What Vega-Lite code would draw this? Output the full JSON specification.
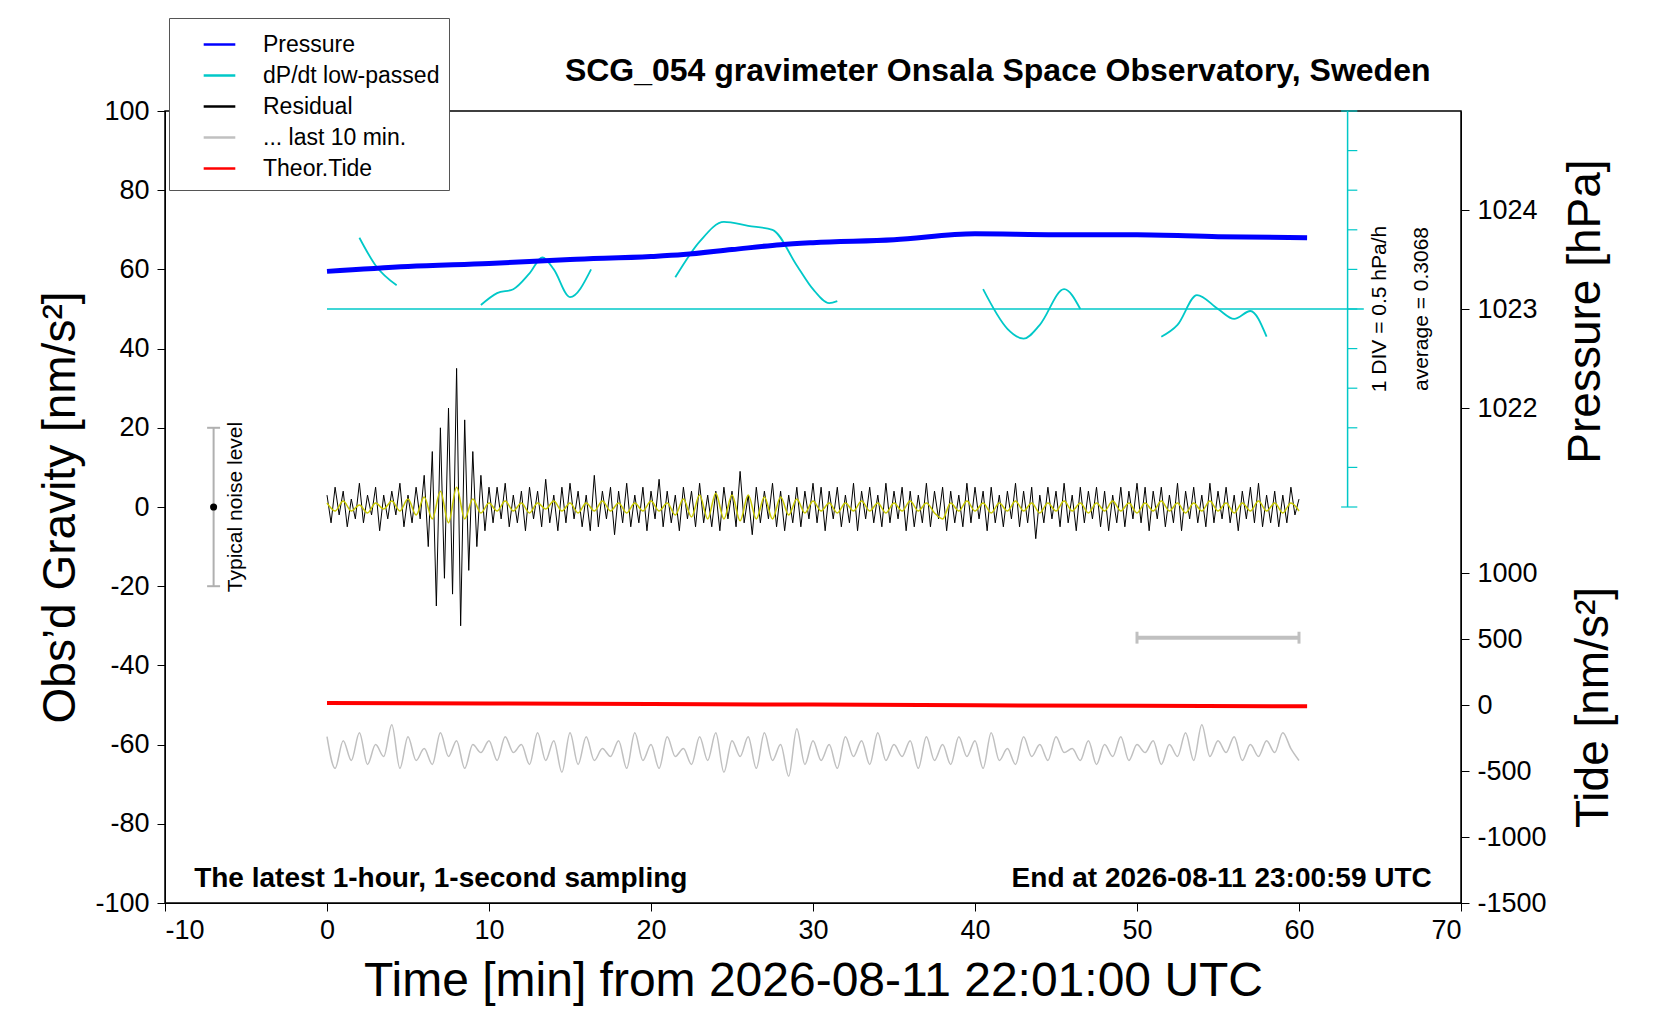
{
"$schema":"https://vega.github.io/schema/vega-lite/v6.json",
"width":1296,"height":792,"autosize":"none",
"padding":{"left":165,"top":111,"right":199,"bottom":117},
"background":"white",
"config":{"font":"Liberation Sans","view":{"stroke":"black","strokeWidth":1.5},
"axis":{"labelFont":"Liberation Sans","titleFont":"Liberation Sans","labelColor":"black","titleColor":"black","tickColor":"black","domainColor":"black","labelFontSize":27,"titleFontWeight":"normal","grid":false,"tickSize":8,"labelExpr":"'' + datum.value"}},
"datasets":{
"pres":[{"t":0,"p":1023.38},{"t":5,"p":1023.43},{"t":10,"p":1023.46},{"t":15,"p":1023.5},{"t":20,"p":1023.53},{"t":22,"p":1023.55},{"t":25,"p":1023.6},{"t":28,"p":1023.65},{"t":30,"p":1023.67},{"t":35,"p":1023.7},{"t":40,"p":1023.76},{"t":45,"p":1023.75},{"t":50,"p":1023.75},{"t":55,"p":1023.73},{"t":60.5,"p":1023.72}],
"tide":[{"t":0,"v":15},{"t":10,"v":12},{"t":20,"v":8},{"t":30,"v":3},{"t":40,"v":-2},{"t":50,"v":-6},{"t":60.5,"v":-10}],
"dpdt":[{"s":1,"t":2,"v":68},{"s":1,"t":3,"v":61},{"s":1,"t":4.3,"v":56},
{"s":2,"t":9.5,"v":51},{"s":2,"t":10.5,"v":54},{"s":2,"t":11.5,"v":55},{"s":2,"t":12.5,"v":59},{"s":2,"t":13.3,"v":63},{"s":2,"t":14,"v":60},{"s":2,"t":15,"v":53},{"s":2,"t":16.3,"v":60},
{"s":3,"t":21.5,"v":58},{"s":3,"t":23,"v":67},{"s":3,"t":24.5,"v":72},{"s":3,"t":26,"v":71},{"s":3,"t":27.5,"v":70},{"s":3,"t":29,"v":61},{"s":3,"t":30,"v":55},{"s":3,"t":31,"v":51.5},{"s":3,"t":31.5,"v":52},
{"s":4,"t":40.5,"v":55},{"s":4,"t":42,"v":45},{"s":4,"t":43,"v":42.5},{"s":4,"t":44,"v":46},{"s":4,"t":45.5,"v":55},{"s":4,"t":46.5,"v":50},
{"s":5,"t":51.5,"v":43},{"s":5,"t":52.5,"v":46},{"s":5,"t":53.7,"v":53.5},{"s":5,"t":55,"v":50},{"s":5,"t":56,"v":47.5},{"s":5,"t":57,"v":49.5},{"s":5,"t":58,"v":43}],
"ticks":[{"y":0,"a":62.6},{"y":10,"a":63},{"y":20,"a":63},{"y":30,"a":63},{"y":40,"a":63},{"y":50,"a":63},{"y":60,"a":63},{"y":70,"a":63},{"y":80,"a":63},{"y":90,"a":63},{"y":100,"a":62.6}],
"res":[{"t":0,"v":3},{"t":0.25,"v":-4},{"t":0.5,"v":5},{"t":0.75,"v":-2},{"t":1,"v":4},{"t":1.25,"v":-5},{"t":1.5,"v":2},{"t":1.75,"v":-3},{"t":2,"v":6},{"t":2.25,"v":-4},{"t":2.5,"v":3},{"t":2.75,"v":-2},{"t":3,"v":5},{"t":3.25,"v":-6},{"t":3.5,"v":3},{"t":3.75,"v":-3},{"t":4,"v":4},{"t":4.25,"v":-2},{"t":4.5,"v":6},{"t":4.75,"v":-5},{"t":5,"v":3},{"t":5.25,"v":-4},{"t":5.5,"v":5},{"t":5.75,"v":-3},
{"t":6,"v":8},{"t":6.25,"v":-10},{"t":6.5,"v":14},{"t":6.75,"v":-25},{"t":7,"v":20},{"t":7.25,"v":-18},{"t":7.5,"v":25},{"t":7.75,"v":-22},{"t":8,"v":35},{"t":8.25,"v":-30},{"t":8.5,"v":22},{"t":8.75,"v":-16},{"t":9,"v":14},{"t":9.25,"v":-10},{"t":9.5,"v":8},{"t":9.75,"v":-6},{"t":10,"v":5},
{"t":10.25,"v":-4},{"t":10.5,"v":5},{"t":10.75,"v":-3},{"t":11,"v":6},{"t":11.25,"v":-5},{"t":11.5,"v":3},{"t":11.75,"v":-4},{"t":12,"v":4},{"t":12.25,"v":-6},{"t":12.5,"v":5},{"t":12.75,"v":-3},{"t":13,"v":4},{"t":13.25,"v":-5},{"t":13.5,"v":7},{"t":13.75,"v":-4},{"t":14,"v":3},{"t":14.25,"v":-6},{"t":14.5,"v":5},{"t":14.75,"v":-4},{"t":15,"v":6},
{"t":15.25,"v":-3},{"t":15.5,"v":4},{"t":15.75,"v":-5},{"t":16,"v":3},{"t":16.25,"v":-6},{"t":16.5,"v":8},{"t":16.75,"v":-5},{"t":17,"v":4},{"t":17.25,"v":-3},{"t":17.5,"v":5},{"t":17.75,"v":-7},{"t":18,"v":4},{"t":18.25,"v":-4},{"t":18.5,"v":6},{"t":18.75,"v":-5},{"t":19,"v":3},{"t":19.25,"v":-4},{"t":19.5,"v":5},{"t":19.75,"v":-6},{"t":20,"v":4},
{"t":20.25,"v":-3},{"t":20.5,"v":7},{"t":20.75,"v":-5},{"t":21,"v":4},{"t":21.25,"v":-4},{"t":21.5,"v":3},{"t":21.75,"v":-6},{"t":22,"v":5},{"t":22.25,"v":-3},{"t":22.5,"v":4},{"t":22.75,"v":-5},{"t":23,"v":6},{"t":23.25,"v":-4},{"t":23.5,"v":3},{"t":23.75,"v":-5},{"t":24,"v":4},{"t":24.25,"v":-6},{"t":24.5,"v":5},{"t":24.75,"v":-3},{"t":25,"v":4},
{"t":25.25,"v":-5},{"t":25.5,"v":9},{"t":25.75,"v":-4},{"t":26,"v":3},{"t":26.25,"v":-7},{"t":26.5,"v":5},{"t":26.75,"v":-4},{"t":27,"v":4},{"t":27.25,"v":-3},{"t":27.5,"v":6},{"t":27.75,"v":-5},{"t":28,"v":4},{"t":28.25,"v":-6},{"t":28.5,"v":3},{"t":28.75,"v":-4},{"t":29,"v":5},{"t":29.25,"v":-5},{"t":29.5,"v":4},{"t":29.75,"v":-3},{"t":30,"v":6},
{"t":30.25,"v":-4},{"t":30.5,"v":5},{"t":30.75,"v":-6},{"t":31,"v":4},{"t":31.25,"v":-3},{"t":31.5,"v":5},{"t":31.75,"v":-5},{"t":32,"v":3},{"t":32.25,"v":-4},{"t":32.5,"v":6},{"t":32.75,"v":-6},{"t":33,"v":4},{"t":33.25,"v":-3},{"t":33.5,"v":5},{"t":33.75,"v":-4},{"t":34,"v":3},{"t":34.25,"v":-5},{"t":34.5,"v":6},{"t":34.75,"v":-4},{"t":35,"v":4},
{"t":35.25,"v":-3},{"t":35.5,"v":5},{"t":35.75,"v":-6},{"t":36,"v":4},{"t":36.25,"v":-5},{"t":36.5,"v":3},{"t":36.75,"v":-4},{"t":37,"v":6},{"t":37.25,"v":-5},{"t":37.5,"v":4},{"t":37.75,"v":-3},{"t":38,"v":5},{"t":38.25,"v":-6},{"t":38.5,"v":4},{"t":38.75,"v":-4},{"t":39,"v":3},{"t":39.25,"v":-5},{"t":39.5,"v":6},{"t":39.75,"v":-4},{"t":40,"v":5},
{"t":40.25,"v":-3},{"t":40.5,"v":4},{"t":40.75,"v":-6},{"t":41,"v":5},{"t":41.25,"v":-4},{"t":41.5,"v":3},{"t":41.75,"v":-5},{"t":42,"v":4},{"t":42.25,"v":-3},{"t":42.5,"v":6},{"t":42.75,"v":-5},{"t":43,"v":4},{"t":43.25,"v":-4},{"t":43.5,"v":5},{"t":43.75,"v":-8},{"t":44,"v":3},{"t":44.25,"v":-4},{"t":44.5,"v":5},{"t":44.75,"v":-3},{"t":45,"v":4},
{"t":45.25,"v":-5},{"t":45.5,"v":6},{"t":45.75,"v":-4},{"t":46,"v":3},{"t":46.25,"v":-6},{"t":46.5,"v":5},{"t":46.75,"v":-4},{"t":47,"v":4},{"t":47.25,"v":-3},{"t":47.5,"v":5},{"t":47.75,"v":-5},{"t":48,"v":4},{"t":48.25,"v":-6},{"t":48.5,"v":3},{"t":48.75,"v":-4},{"t":49,"v":5},{"t":49.25,"v":-5},{"t":49.5,"v":4},{"t":49.75,"v":-3},{"t":50,"v":6},
{"t":50.25,"v":-4},{"t":50.5,"v":5},{"t":50.75,"v":-6},{"t":51,"v":4},{"t":51.25,"v":-3},{"t":51.5,"v":5},{"t":51.75,"v":-5},{"t":52,"v":3},{"t":52.25,"v":-4},{"t":52.5,"v":6},{"t":52.75,"v":-6},{"t":53,"v":4},{"t":53.25,"v":-3},{"t":53.5,"v":5},{"t":53.75,"v":-4},{"t":54,"v":3},{"t":54.25,"v":-5},{"t":54.5,"v":6},{"t":54.75,"v":-4},{"t":55,"v":4},{"t":55.25,"v":-3},
{"t":55.5,"v":5},{"t":55.75,"v":-4},{"t":56,"v":3},{"t":56.25,"v":-6},{"t":56.5,"v":4},{"t":56.75,"v":-3},{"t":57,"v":5},{"t":57.25,"v":-4},{"t":57.5,"v":6},{"t":57.75,"v":-5},{"t":58,"v":3},{"t":58.25,"v":-4},{"t":58.5,"v":4},{"t":58.75,"v":-5},{"t":59,"v":3},{"t":59.25,"v":-4},{"t":59.5,"v":5},{"t":59.75,"v":-2},{"t":60,"v":2}],
"yel":[{"t":0,"v":1},{"t":0.5,"v":-1},{"t":1,"v":1.5},{"t":1.5,"v":-1},{"t":2,"v":0.5},{"t":2.5,"v":-1.5},{"t":3,"v":1},{"t":3.5,"v":-0.5},{"t":4,"v":1.5},{"t":4.5,"v":-1},{"t":5,"v":2},{"t":5.5,"v":-2},{"t":6,"v":2.5},{"t":6.5,"v":-3},{"t":7,"v":4},{"t":7.5,"v":-4},{"t":8,"v":5},{"t":8.5,"v":-3},{"t":9,"v":2},{"t":9.5,"v":-1.5},{"t":10,"v":1},
{"t":10.5,"v":-1},{"t":11,"v":1.5},{"t":11.5,"v":-1},{"t":12,"v":1},{"t":12.5,"v":-1.5},{"t":13,"v":1},{"t":13.5,"v":-0.5},{"t":14,"v":1.5},{"t":14.5,"v":-1},{"t":15,"v":1},{"t":15.5,"v":-1.5},{"t":16,"v":1},{"t":16.5,"v":-1},{"t":17,"v":1.5},{"t":17.5,"v":-1},{"t":18,"v":1},{"t":18.5,"v":-1.5},{"t":19,"v":1},{"t":19.5,"v":-1},{"t":20,"v":1.5},{"t":20.5,"v":-1},{"t":21,"v":1},{"t":21.5,"v":-2},{"t":22,"v":2},{"t":22.5,"v":-2.5},{"t":23,"v":3},{"t":23.5,"v":-3},{"t":24,"v":3.5},{"t":24.5,"v":-3},{"t":25,"v":3},{"t":25.5,"v":-3.5},{"t":26,"v":3},{"t":26.5,"v":-3},{"t":27,"v":2.5},{"t":27.5,"v":-3},{"t":28,"v":2.5},{"t":28.5,"v":-2},{"t":29,"v":2},{"t":29.5,"v":-1.5},{"t":30,"v":1.5},{"t":30.5,"v":-1},{"t":31,"v":1},{"t":31.5,"v":-1.5},{"t":32,"v":1},{"t":32.5,"v":-1},{"t":33,"v":1.5},{"t":33.5,"v":-1},{"t":34,"v":1},{"t":34.5,"v":-1.5},{"t":35,"v":1},{"t":35.5,"v":-1},{"t":36,"v":1.5},{"t":36.5,"v":-1},{"t":37,"v":1},{"t":37.5,"v":-1.5},{"t":38,"v":-3},{"t":38.5,"v":1},{"t":39,"v":-1},{"t":39.5,"v":1.5},{"t":40,"v":-1},{"t":40.5,"v":1},{"t":41,"v":-1.5},{"t":41.5,"v":1},{"t":42,"v":-1},{"t":42.5,"v":1.5},{"t":43,"v":-1},{"t":43.5,"v":1},{"t":44,"v":-1.5},{"t":44.5,"v":1},{"t":45,"v":-1},{"t":45.5,"v":1.5},{"t":46,"v":-1},{"t":46.5,"v":1},{"t":47,"v":-1.5},{"t":47.5,"v":1},{"t":48,"v":-1},{"t":48.5,"v":1.5},{"t":49,"v":-1},{"t":49.5,"v":1},{"t":50,"v":-1.5},{"t":50.5,"v":1},{"t":51,"v":-1},{"t":51.5,"v":1.5},{"t":52,"v":-1},{"t":52.5,"v":1},{"t":53,"v":-1.5},{"t":53.5,"v":1},{"t":54,"v":-1},{"t":54.5,"v":1.5},{"t":55,"v":-1},{"t":55.5,"v":1},{"t":56,"v":-1.5},{"t":56.5,"v":1},{"t":57,"v":-1},{"t":57.5,"v":1.5},{"t":58,"v":-1},{"t":58.5,"v":1},{"t":59,"v":-1.5},{"t":59.5,"v":1},{"t":60,"v":-1}],
"grey":[{"t":0,"v":-58},{"t":0.5,"v":-66},{"t":1,"v":-59},{"t":1.5,"v":-64},{"t":2,"v":-57},{"t":2.5,"v":-65},{"t":3,"v":-60},{"t":3.5,"v":-63},{"t":4,"v":-55},{"t":4.5,"v":-66},{"t":5,"v":-58},{"t":5.5,"v":-64},{"t":6,"v":-61},{"t":6.5,"v":-65},{"t":7,"v":-57},{"t":7.5,"v":-63},{"t":8,"v":-59},{"t":8.5,"v":-66},{"t":9,"v":-60},{"t":9.5,"v":-62},{"t":10,"v":-59},{"t":10.5,"v":-64},{"t":11,"v":-58},{"t":11.5,"v":-62},{"t":12,"v":-60},{"t":12.5,"v":-65},{"t":13,"v":-57},{"t":13.5,"v":-64},{"t":14,"v":-59},{"t":14.5,"v":-67},{"t":15,"v":-57},{"t":15.5,"v":-65},{"t":16,"v":-58},{"t":16.5,"v":-64},{"t":17,"v":-61},{"t":17.5,"v":-63},{"t":18,"v":-59},{"t":18.5,"v":-66},{"t":19,"v":-57},{"t":19.5,"v":-64},{"t":20,"v":-60},{"t":20.5,"v":-66},{"t":21,"v":-58},{"t":21.5,"v":-63},{"t":22,"v":-61},{"t":22.5,"v":-65},{"t":23,"v":-58},{"t":23.5,"v":-64},{"t":24,"v":-57},{"t":24.5,"v":-67},{"t":25,"v":-59},{"t":25.5,"v":-63},{"t":26,"v":-58},{"t":26.5,"v":-66},{"t":27,"v":-57},{"t":27.5,"v":-64},{"t":28,"v":-60},{"t":28.5,"v":-68},{"t":29,"v":-56},{"t":29.5,"v":-65},{"t":30,"v":-59},{"t":30.5,"v":-64},{"t":31,"v":-60},{"t":31.5,"v":-66},{"t":32,"v":-58},{"t":32.5,"v":-63},{"t":33,"v":-59},{"t":33.5,"v":-65},{"t":34,"v":-57},{"t":34.5,"v":-64},{"t":35,"v":-60},{"t":35.5,"v":-63},{"t":36,"v":-59},{"t":36.5,"v":-66},{"t":37,"v":-58},{"t":37.5,"v":-64},{"t":38,"v":-60},{"t":38.5,"v":-65},{"t":39,"v":-58},{"t":39.5,"v":-63},{"t":40,"v":-59},{"t":40.5,"v":-66},{"t":41,"v":-57},{"t":41.5,"v":-64},{"t":42,"v":-61},{"t":42.5,"v":-65},{"t":43,"v":-58},{"t":43.5,"v":-63},{"t":44,"v":-60},{"t":44.5,"v":-64},{"t":45,"v":-58},{"t":45.5,"v":-62},{"t":46,"v":-61},{"t":46.5,"v":-64},{"t":47,"v":-59},{"t":47.5,"v":-65},{"t":48,"v":-60},{"t":48.5,"v":-63},{"t":49,"v":-58},{"t":49.5,"v":-64},{"t":50,"v":-60},{"t":50.5,"v":-62},{"t":51,"v":-59},{"t":51.5,"v":-65},{"t":52,"v":-60},{"t":52.5,"v":-63},{"t":53,"v":-57},{"t":53.5,"v":-64},{"t":54,"v":-55},{"t":54.5,"v":-63},{"t":55,"v":-59},{"t":55.5,"v":-62},{"t":56,"v":-58},{"t":56.5,"v":-64},{"t":57,"v":-60},{"t":57.5,"v":-63},{"t":58,"v":-59},{"t":58.5,"v":-62},{"t":59,"v":-57},{"t":59.5,"v":-61},{"t":60,"v":-64}]
},
"resolve":{"scale":{"y":"independent"}},
"layer":[
{"data":{"name":"res"},"mark":{"type":"line","strokeWidth":1},
 "encoding":{"x":{"field":"t","type":"quantitative","scale":{"domain":[-10,70],"nice":false},
   "axis":{"values":[-10,0,10,20,30,40,50,60,70],"title":"Time [min] from 2026-08-11 22:01:00 UTC","titleFontSize":48,"titlePadding":14,"labelPadding":6}},
  "y":{"field":"v","type":"quantitative","scale":{"domain":[-100,100],"nice":false,"zero":false},
   "axis":{"values":[-100,-80,-60,-40,-20,0,20,40,60,80,100],"title":"Obs’d Gravity [nm/s²]","titleFontSize":46,"titlePadding":10,"labelPadding":8}},
  "color":{"datum":"Residual","type":"nominal","scale":{"domain":["Pressure","dP/dt low-passed","Residual","... last 10 min.","Theor.Tide"],"range":["#0000ff","#00c8c8","#000000","#c0c0c0","#ff0000"]},
   "legend":{"orient":"none","legendX":4,"legendY":-93,"title":null,"symbolType":"stroke","symbolSize":1000,"symbolStrokeWidth":2.5,"symbolOffset":24,"labelFontSize":23,"labelFont":"Liberation Sans","labelLimit":0,"rowPadding":1,"padding":9,"strokeColor":"#555","fillColor":"white","labelOffset":26,"offset":0}}}},
{"data":{"name":"yel"},"mark":{"type":"line","strokeWidth":1.5,"color":"#c8c800","interpolate":"monotone"},
 "encoding":{"x":{"field":"t","type":"quantitative"},"y":{"field":"v","type":"quantitative","scale":{"domain":[-100,100],"nice":false,"zero":false},"axis":null}}},
{"data":{"name":"grey"},"mark":{"type":"line","strokeWidth":1.5,"interpolate":"monotone"},
 "encoding":{"x":{"field":"t","type":"quantitative"},"y":{"field":"v","type":"quantitative","scale":{"domain":[-100,100],"nice":false,"zero":false},"axis":null},"color":{"datum":"... last 10 min.","type":"nominal"}}},
{"data":{"name":"dpdt"},"mark":{"type":"line","strokeWidth":1.8,"interpolate":"monotone"},
 "encoding":{"x":{"field":"t","type":"quantitative"},"y":{"field":"v","type":"quantitative","scale":{"domain":[-100,100],"nice":false,"zero":false},"axis":null},"detail":{"field":"s"},"color":{"datum":"dP/dt low-passed","type":"nominal"}}},
{"data":{"values":[{"a":0,"b":64,"y":50}]},"mark":{"type":"rule","color":"#00c8c8","strokeWidth":1.5},
 "encoding":{"x":{"field":"a","type":"quantitative"},"x2":{"field":"b"},"y":{"field":"y","type":"quantitative","scale":{"domain":[-100,100],"nice":false,"zero":false},"axis":null}}},
{"data":{"values":[{"x":63,"a":0,"b":100}]},"mark":{"type":"rule","color":"#00c8c8","strokeWidth":1.5},
 "encoding":{"x":{"field":"x","type":"quantitative"},"y":{"field":"a","type":"quantitative","scale":{"domain":[-100,100],"nice":false,"zero":false},"axis":null},"y2":{"field":"b"}}},
{"data":{"name":"ticks"},"mark":{"type":"rule","color":"#00c8c8","strokeWidth":1.2},
 "encoding":{"x":{"field":"a","type":"quantitative"},"x2":{"datum":63.6},"y":{"field":"y","type":"quantitative","scale":{"domain":[-100,100],"nice":false,"zero":false},"axis":null}}},
{"data":{"name":"pres"},"mark":{"type":"line","strokeWidth":5,"interpolate":"monotone"},
 "encoding":{"x":{"field":"t","type":"quantitative"},"y":{"field":"p","type":"quantitative","scale":{"domain":[1017,1025],"nice":false,"zero":false},
   "axis":{"orient":"right","values":[1022,1023,1024],"title":"Pressure [hPa]","titleFontSize":46,"titleAngle":270,"titleX":124,"titleY":200,"titleAlign":"center","titleBaseline":"middle","labelPadding":8}},
  "color":{"datum":"Pressure","type":"nominal"}}},
{"data":{"name":"tide"},"mark":{"type":"line","strokeWidth":4},
 "encoding":{"x":{"field":"t","type":"quantitative"},"y":{"field":"v","type":"quantitative","scale":{"domain":[-1500,4500],"nice":false,"zero":false},
   "axis":{"orient":"right","values":[-1500,-1000,-500,0,500,1000],"title":"Tide [nm/s²]","titleFontSize":46,"titleAngle":270,"titleX":132,"titleY":596,"titleAlign":"center","titleBaseline":"middle","labelPadding":8,"domain":false}},
  "color":{"datum":"Theor.Tide","type":"nominal"}}},
{"data":{"values":[{"a":50,"b":60,"y":-33}]},"mark":{"type":"rule","color":"#c0c0c0","strokeWidth":4},
 "encoding":{"x":{"field":"a","type":"quantitative"},"x2":{"field":"b"},"y":{"field":"y","type":"quantitative","scale":{"domain":[-100,100],"nice":false,"zero":false},"axis":null}}},
{"data":{"values":[{"x":50,"a":-31.5,"b":-34.5},{"x":60,"a":-31.5,"b":-34.5}]},"mark":{"type":"rule","color":"#c0c0c0","strokeWidth":3},
 "encoding":{"x":{"field":"x","type":"quantitative"},"y":{"field":"a","type":"quantitative","scale":{"domain":[-100,100],"nice":false,"zero":false},"axis":null},"y2":{"field":"b"}}},
{"data":{"values":[{"x":-7,"a":-20,"b":20}]},"mark":{"type":"rule","color":"#b0b0b0","strokeWidth":2},
 "encoding":{"x":{"field":"x","type":"quantitative"},"y":{"field":"a","type":"quantitative","scale":{"domain":[-100,100],"nice":false,"zero":false},"axis":null},"y2":{"field":"b"}}},
{"data":{"values":[{"a":-7.4,"b":-6.6,"y":20},{"a":-7.4,"b":-6.6,"y":-20}]},"mark":{"type":"rule","color":"#b0b0b0","strokeWidth":2},
 "encoding":{"x":{"field":"a","type":"quantitative"},"x2":{"field":"b"},"y":{"field":"y","type":"quantitative","scale":{"domain":[-100,100],"nice":false,"zero":false},"axis":null}}},
{"data":{"values":[{"x":-7,"y":0}]},"mark":{"type":"point","filled":true,"color":"black","size":50,"opacity":1},
 "encoding":{"x":{"field":"x","type":"quantitative"},"y":{"field":"y","type":"quantitative","scale":{"domain":[-100,100],"nice":false,"zero":false},"axis":null}}},
{"data":{"values":[{"x":-5.6,"y":0,"s":"Typical noise level"},
 {"x":65,"y":50,"s":"1 DIV = 0.5 hPa/h"},
 {"x":67.6,"y":50,"s":"average = 0.3068"}]},
 "mark":{"type":"text","angle":270,"baseline":"middle","align":"center","fontSize":21,"color":"black","font":"Liberation Sans"},
 "encoding":{"x":{"field":"x","type":"quantitative"},"y":{"field":"y","type":"quantitative","scale":{"domain":[-100,100],"nice":false,"zero":false},"axis":null},"text":{"field":"s"}}},
{"data":{"values":[{"x":-8.2,"y":-94,"s":"The latest 1-hour, 1-second sampling"}]},
 "mark":{"type":"text","align":"left","baseline":"middle","fontSize":28,"fontWeight":"bold","color":"black","font":"Liberation Sans"},
 "encoding":{"x":{"field":"x","type":"quantitative"},"y":{"field":"y","type":"quantitative","scale":{"domain":[-100,100],"nice":false,"zero":false},"axis":null},"text":{"field":"s"}}},
{"data":{"values":[{"x":68.2,"y":-94,"s":"End at 2026-08-11 23:00:59 UTC"}]},
 "mark":{"type":"text","align":"right","baseline":"middle","fontSize":28,"fontWeight":"bold","color":"black","font":"Liberation Sans"},
 "encoding":{"x":{"field":"x","type":"quantitative"},"y":{"field":"y","type":"quantitative","scale":{"domain":[-100,100],"nice":false,"zero":false},"axis":null},"text":{"field":"s"}}},
{"data":{"values":[{"x":41.4,"y":110,"s":"SCG_054 gravimeter Onsala Space Observatory, Sweden"}]},
 "mark":{"type":"text","align":"center","baseline":"middle","fontSize":32,"fontWeight":"bold","color":"black","font":"Liberation Sans","clip":false},
 "encoding":{"x":{"field":"x","type":"quantitative"},"y":{"field":"y","type":"quantitative","scale":{"domain":[-100,100],"nice":false,"zero":false},"axis":null},"text":{"field":"s"}}}
]
}
